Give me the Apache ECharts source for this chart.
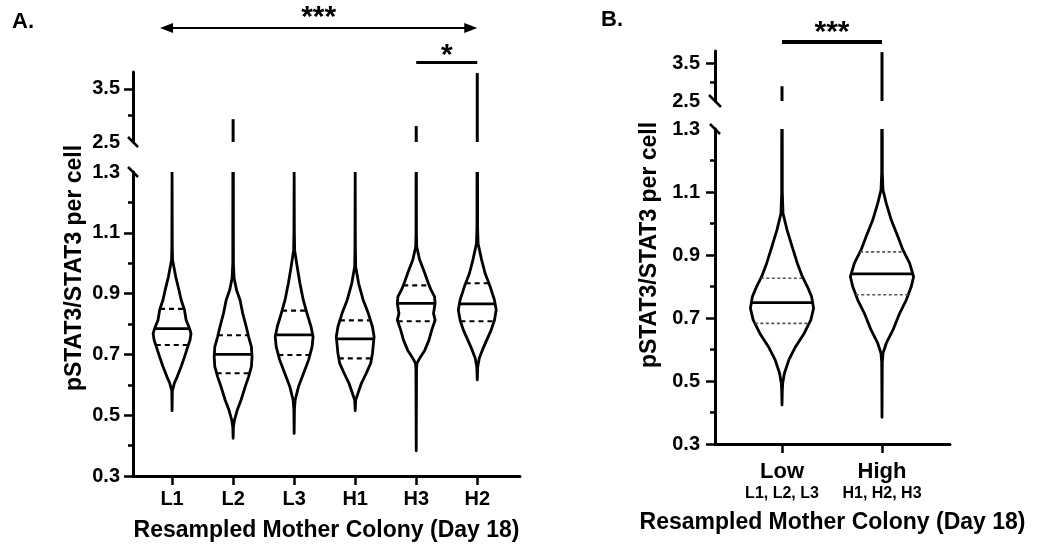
<!DOCTYPE html>
<html>
<head>
<meta charset="utf-8">
<script src="https://cdn.jsdelivr.net/npm/echarts@6/dist/echarts.min.js"></script>
<style>
html, body { margin: 0; padding: 0; background: #fff; }
#chart { width: 1038px; height: 548px; }
</style>
</head>
<body>
<div id="chart"></div>
<script>
// ---- panel A data ----
const catsA = ['L1', 'L2', 'L3', 'H1', 'H3', 'H2'];
const medianA = [0.785, 0.700, 0.764, 0.751, 0.868, 0.866];
const q1A = [0.731, 0.638, 0.698, 0.687, 0.809, 0.809];
const q3A = [0.850, 0.763, 0.844, 0.812, 0.927, 0.934];
const minA = [0.515, 0.424, 0.440, 0.515, 0.383, 0.616];
const maxA = [1.30, 2.93, 1.30, 1.30, 2.80, 3.80];
// density profiles: [value, relative width]
const profA = [
  [[0.515, 0], [0.58, 0.3], [0.605, 2.3], [0.627, 5.3], [0.660, 9.3], [0.692, 12.7], [0.725, 16], [0.747, 18.3], [0.769, 19.3], [0.786, 17.7], [0.813, 14.3], [0.846, 12.7], [0.879, 9.3], [0.912, 7], [0.956, 3.7], [1.011, 0.5], [1.06, 0.2]],
  [[0.424, 0], [0.46, 0.3], [0.484, 1.3], [0.517, 4], [0.550, 7.7], [0.594, 11.7], [0.627, 15], [0.660, 17.7], [0.692, 18.3], [0.725, 17.7], [0.758, 15], [0.791, 12.7], [0.835, 9.3], [0.879, 6.7], [0.912, 3.3], [0.95, 1], [1.0, 0.3]],
  [[0.440, 0], [0.52, 0.3], [0.550, 1], [0.594, 4.3], [0.638, 9.3], [0.682, 14.3], [0.725, 17.7], [0.758, 18.7], [0.791, 16.7], [0.835, 12.7], [0.879, 9], [0.934, 5.7], [0.988, 3], [1.043, 0.5], [1.1, 0.2]],
  [[0.515, 0], [0.55, 0.5], [0.572, 2.7], [0.605, 6], [0.638, 10.7], [0.671, 15], [0.703, 16.7], [0.725, 17.3], [0.758, 18.3], [0.791, 16.7], [0.835, 12.7], [0.879, 7.7], [0.934, 3.3], [0.988, 0.5], [1.05, 0.2]],
  [[0.383, 0], [0.65, 0.3], [0.671, 0.7], [0.687, 3.3], [0.714, 8.3], [0.747, 12.3], [0.780, 15], [0.813, 18.3], [0.835, 16.7], [0.868, 18.3], [0.890, 17.7], [0.912, 14.3], [0.934, 11.7], [0.967, 8.3], [1.011, 3.3], [1.054, 0.5], [1.1, 0.2]],
  [[0.616, 0], [0.66, 0.5], [0.687, 2], [0.714, 5], [0.747, 9.3], [0.780, 13.7], [0.813, 17], [0.846, 18.7], [0.879, 17], [0.923, 12.7], [0.967, 7.7], [1.011, 4.3], [1.065, 0.8], [1.12, 0.3]]
];

// ---- panel B data ----
const catsB = ['Low', 'High'];
const subB = ['L1, L2, L3', 'H1, H2, H3'];
const medianB = [0.749, 0.840];
const q1B = [0.683, 0.774];
const q3B = [0.826, 0.910];
const minB = [0.424, 0.385];
const maxB = [2.89, 3.79];
const profB = [
  [[0.424, 0], [0.47, 0.3], [0.493, 0.7], [0.524, 2.3], [0.567, 6.7], [0.609, 13.3], [0.651, 21.7], [0.694, 28.3], [0.731, 31], [0.768, 29], [0.799, 25], [0.831, 20], [0.874, 15], [0.926, 10], [0.979, 5], [1.032, 1], [1.1, 0.3]],
  [[0.385, 0], [0.56, 0.3], [0.588, 1], [0.620, 4.3], [0.662, 11], [0.715, 17.7], [0.757, 24.3], [0.799, 29.3], [0.831, 31.7], [0.874, 27.7], [0.916, 21], [0.958, 16], [1.011, 9.3], [1.064, 4.3], [1.106, 1], [1.16, 0.3]]
];

const lowTicks = [0.3, 0.5, 0.7, 0.9, 1.1];
const lowLabels = [0.3, 0.5, 0.7, 0.9, 1.1, 1.3];
const lowMinor = [0.4, 0.6, 0.8, 1.0, 1.2];
const upTicks = [3.5];
const upLabels = [2.5, 3.5];
const upMinor = [3.0];

const FONT = 'Liberation Sans, Arial, sans-serif';

function widthAt(prof, v) {
  for (let k = 0; k < prof.length - 1; k++) {
    const a = prof[k], b = prof[k + 1];
    if (v >= a[0] && v <= b[0]) return a[1] + (b[1] - a[1]) * (v - a[0]) / (b[0] - a[0]);
  }
  return 0;
}

function violin(profs, med, q1, q3, mins, maxs, halfW, qStyle) {
  return function (params, api) {
    const i = api.value(0);
    const prof = profs[i].concat([[Math.max(maxs[i], 1.3), 0]]);
    let peak = 0;
    prof.forEach(p => { peak = Math.max(peak, p[1]); });
    const s = halfW / peak;
    const right = prof.map(p => api.coord([i + p[1] * s, p[0]]));
    const left = prof.slice().reverse().map(p => api.coord([i - p[1] * s, p[0]]));
    const hline = (v, style) => {
      const w = widthAt(prof, v) * s;
      const a = api.coord([i - w, v]), b = api.coord([i + w, v]);
      return { type: 'line', shape: { x1: a[0], y1: a[1], x2: b[0], y2: b[1] }, style: style };
    };
    return {
      type: 'group',
      children: [
        { type: 'polygon', shape: { points: right.concat(left) }, style: { fill: '#fff', stroke: '#000', lineWidth: 2.8, lineJoin: 'round' } },
        hline(med[i], { stroke: '#000', lineWidth: 2.8 }),
        hline(q1[i], qStyle),
        hline(q3[i], qStyle)
      ]
    };
  };
}

function tail(maxs) {
  return function (params, api) {
    const i = api.value(0);
    if (maxs[i] <= 2.5) return null;
    const a = api.coord([i, 2.5]), b = api.coord([i, maxs[i]]);
    return { type: 'line', shape: { x1: a[0], y1: a[1], x2: b[0], y2: b[1] }, style: { stroke: '#000', lineWidth: 3 } };
  };
}

function yAxisPair(grid, min, max, ticks, labels, minor, margin) {
  return [
    {
      gridIndex: grid, type: 'value', position: 'left', min: min, max: max,
      axisLine: { show: true, onZero: false, lineStyle: { color: '#000', width: 3 } },
      axisTick: { show: true, customValues: ticks, length: 9, lineStyle: { color: '#000', width: 2.5 } },
      axisLabel: { customValues: labels, formatter: v => Number(v).toFixed(1), margin: margin, color: '#000', fontFamily: FONT, fontWeight: 'bold', fontSize: 20 },
      splitLine: { show: false }
    },
    {
      gridIndex: grid, type: 'value', position: 'left', offset: 0, min: min, max: max,
      axisLine: { show: false, onZero: false },
      axisTick: { show: true, customValues: minor, length: 5, lineStyle: { color: '#000', width: 2.5 } },
      axisLabel: { show: false },
      splitLine: { show: false }
    }
  ];
}

const xRangeA = [-0.64, 5.7];
const xRangeB = [-0.67, 1.68];

const titleStyle = { color: '#000', fontFamily: FONT, fontWeight: 'bold', fontSize: 23 };

const option = {
  animation: false,
  backgroundColor: '#fff',
  grid: [
    { left: 133, top: 172, width: 387, height: 304 },
    { left: 133, top: 72, width: 387, height: 70 },
    { left: 715, top: 129, width: 235, height: 315 },
    { left: 715, top: 51, width: 235, height: 50 }
  ],
  xAxis: [
    {
      gridIndex: 0, type: 'value', min: xRangeA[0], max: xRangeA[1],
      axisLine: { show: true, onZero: false, lineStyle: { color: '#000', width: 3 } },
      axisTick: { show: true, customValues: [0, 1, 2, 3, 4, 5], length: 9, lineStyle: { color: '#000', width: 2.5 } },
      axisLabel: { customValues: [0, 1, 2, 3, 4, 5], formatter: v => catsA[Math.round(v)], margin: 13, color: '#000', fontFamily: FONT, fontWeight: 'bold', fontSize: 20 },
      splitLine: { show: false },
      name: 'Resampled Mother Colony (Day 18)', nameLocation: 'middle', nameGap: 43, nameTextStyle: titleStyle
    },
    { gridIndex: 1, type: 'value', min: xRangeA[0], max: xRangeA[1], show: false },
    {
      gridIndex: 2, type: 'value', min: xRangeB[0], max: xRangeB[1],
      axisLine: { show: true, onZero: false, lineStyle: { color: '#000', width: 3 } },
      axisTick: { show: true, customValues: [0, 1], length: 9, lineStyle: { color: '#000', width: 2.5 } },
      axisLabel: {
        customValues: [0, 1], margin: 16, color: '#000', fontFamily: FONT, fontWeight: 'bold',
        formatter: v => '{a|' + catsB[Math.round(v)] + '}\n{b|' + subB[Math.round(v)] + '}',
        rich: {
          a: { fontFamily: FONT, fontWeight: 'bold', fontSize: 22, lineHeight: 24, color: '#000' },
          b: { fontFamily: FONT, fontWeight: 'bold', fontSize: 16, lineHeight: 20, color: '#000' }
        }
      },
      splitLine: { show: false },
      name: 'Resampled Mother Colony (Day 18)', nameLocation: 'middle', nameGap: 67, nameTextStyle: titleStyle
    },
    { gridIndex: 3, type: 'value', min: xRangeB[0], max: xRangeB[1], show: false }
  ],
  yAxis: [].concat(
    yAxisPair(0, 0.3, 1.3, lowTicks, lowLabels, lowMinor, 13),
    yAxisPair(1, 2.5, 3.82, upTicks, upLabels, upMinor, 13),
    yAxisPair(2, 0.3, 1.3, lowTicks, lowLabels, lowMinor, 15),
    yAxisPair(3, 2.5, 3.82, upTicks, upLabels, upMinor, 15)
  ),
  series: [
    {
      type: 'custom', xAxisIndex: 0, yAxisIndex: 0, clip: true,
      renderItem: violin(profA, medianA, q1A, q3A, minA, maxA, 0.31, { stroke: '#000', lineWidth: 2.2, lineDash: [5, 4] }),
      data: catsA.map((c, i) => [i])
    },
    { type: 'custom', xAxisIndex: 1, yAxisIndex: 2, clip: true, renderItem: tail(maxA), data: catsA.map((c, i) => [i]) },
    {
      type: 'custom', xAxisIndex: 2, yAxisIndex: 4, clip: true,
      renderItem: violin(profB, medianB, q1B, q3B, minB, maxB, 0.316, { stroke: '#555', lineWidth: 1.6, lineDash: [3, 2.5] }),
      data: catsB.map((c, i) => [i])
    },
    { type: 'custom', xAxisIndex: 3, yAxisIndex: 6, clip: true, renderItem: tail(maxB), data: catsB.map((c, i) => [i]) }
  ]
};

const chart = echarts.init(document.getElementById('chart'));
chart.setOption(option);

// decorations: break marks, panel letters, axis titles, significance bars
const P = (g, x, y) => chart.convertToPixel({ gridIndex: g }, [x, y]);
const g = [];
function seg(a, b, w) {
  g.push({ type: 'line', shape: { x1: a[0], y1: a[1], x2: b[0], y2: b[1] }, style: { stroke: '#000', lineWidth: w } });
}
function txt(x, y, s, size, rot) {
  g.push({ type: 'text', x: x, y: y, rotation: rot || 0, style: { text: s, x: 0, y: 0, align: 'center', verticalAlign: 'middle', fill: '#000', font: 'bold ' + size + 'px ' + FONT } });
}
function brk(p, d) {
  seg([p[0] - d, p[1] - d], [p[0] + d, p[1] + d], 2.5);
}
brk(P(0, xRangeA[0], 1.3), 5);
brk(P(1, xRangeA[0], 2.5), 5);
brk(P(2, xRangeB[0], 1.3), 5);
brk(P(3, xRangeB[0], 2.5), 6);

txt(23, 22, 'A.', 22);
txt(612, 20, 'B.', 22);
txt(75, 268, 'pSTAT3/STAT3 per cell', 23, Math.PI / 2);
txt(650, 245, 'pSTAT3/STAT3 per cell', 23, Math.PI / 2);

// A: L1 vs H2 arrow, H3 vs H2 bar
const aL = P(0, 0, 1)[0] - 12, aR = P(0, 5, 1)[0];
const ay = 28;
seg([aL + 10, ay], [aR - 10, ay], 2.2);
g.push({ type: 'polygon', shape: { points: [[aL, ay], [aL + 13, ay - 5], [aL + 13, ay + 5]] }, style: { fill: '#000' } });
g.push({ type: 'polygon', shape: { points: [[aR, ay], [aR - 13, ay - 5], [aR - 13, ay + 5]] }, style: { fill: '#000' } });
txt((aL + aR) / 2, 18, '***', 30);
const h3 = P(0, 4, 1)[0], h2 = P(0, 5, 1)[0];
seg([h3, 62.5], [h2, 62.5], 3);
txt((h3 + h2) / 2, 56, '*', 30);

// B: Low vs High bar
const lo = P(2, 0, 1)[0], hi = P(2, 1, 1)[0];
seg([lo, 42], [hi, 42], 4);
txt((lo + hi) / 2, 33, '***', 30);

chart.setOption({ graphic: g });
</script>
</body>
</html>
